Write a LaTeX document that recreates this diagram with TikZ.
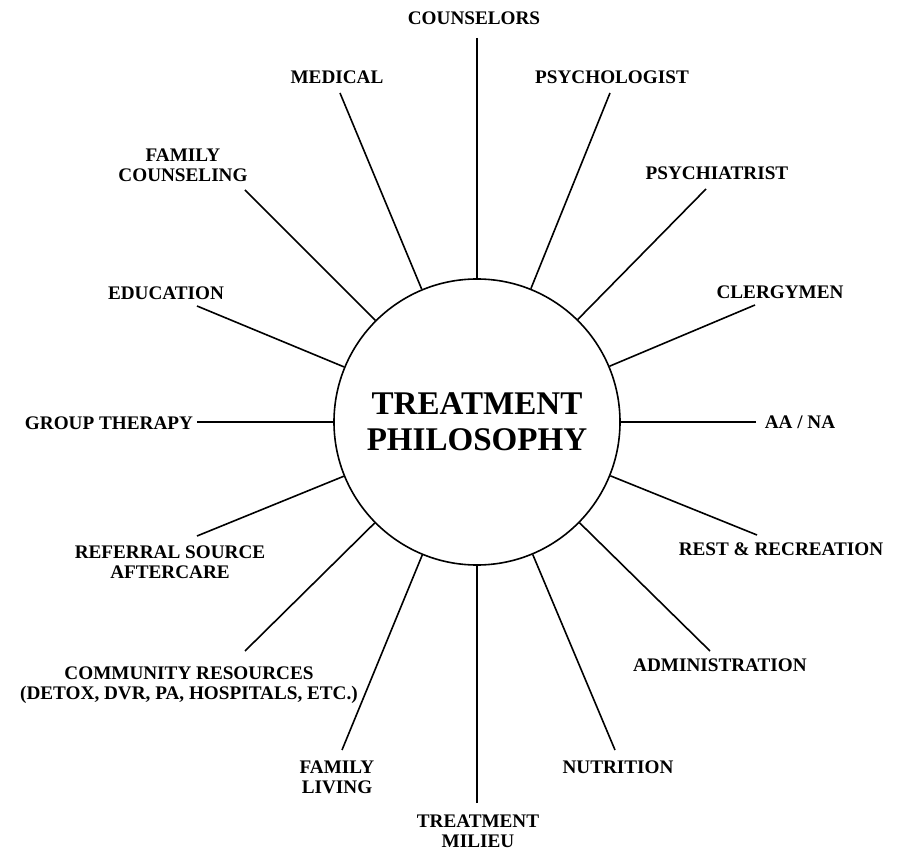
\documentclass[tikz,border=0pt]{standalone}
\usepackage{fontspec}
\setmainfont{Liberation Serif}
\usepackage{tikz}

\begin{document}
\begin{tikzpicture}[x=0.75pt,y=-0.75pt,
    spoke/.style={line width=1.2pt},
    lbl/.style={font=\bfseries\fontsize{14.4}{15}\selectfont,align=center,inner sep=0pt}]
    \useasboundingbox (0,0) rectangle (901,852);
    \node [draw,circle,line width=1.2pt,minimum size=214.5pt,inner sep=0pt,
        font=\bfseries\fontsize{24.8}{27}\selectfont,align=center] (phil) at (477,422) {TREATMENT\\PHILOSOPHY};
    % outer ends of the spokes
    \coordinate (counselorsend) at (477,38);
    \coordinate (psychologistend) at (610,93);
    \coordinate (psychiatristend) at (706,189);
    \coordinate (clergyend) at (755,305);
    \coordinate (aanaend) at (756,422);
    \coordinate (restend) at (757,535);
    \coordinate (adminend) at (710,651);
    \coordinate (nutritionend) at (615,750);
    \coordinate (milieuend) at (477,803);
    \coordinate (livingend) at (342,750);
    \coordinate (communityend) at (245,651);
    \coordinate (referralend) at (197,536);
    \coordinate (groupend) at (197,422);
    \coordinate (educationend) at (197,306);
    \coordinate (famcounselend) at (245,190);
    \coordinate (medicalend) at (340,93);
    \draw [spoke] (counselorsend) -- (phil);
    \draw [spoke] (psychologistend) -- (phil);
    \draw [spoke] (psychiatristend) -- (phil);
    \draw [spoke] (clergyend) -- (phil);
    \draw [spoke] (aanaend) -- (phil);
    \draw [spoke] (restend) -- (phil);
    \draw [spoke] (adminend) -- (phil);
    \draw [spoke] (nutritionend) -- (phil);
    \draw [spoke] (milieuend) -- (phil);
    \draw [spoke] (livingend) -- (phil);
    \draw [spoke] (communityend) -- (phil);
    \draw [spoke] (referralend) -- (phil);
    \draw [spoke] (groupend) -- (phil);
    \draw [spoke] (educationend) -- (phil);
    \draw [spoke] (famcounselend) -- (phil);
    \draw [spoke] (medicalend) -- (phil);
    % labels
    \node [lbl] (counselors) at (474,18) {COUNSELORS};
    \node [lbl] (medical) at (337,77) {MEDICAL};
    \node [lbl] (psychologist) at (612,77) {PSYCHOLOGIST};
    \node [lbl] (psychiatrist) at (717,173) {PSYCHIATRIST};
    \node [lbl] (famcounsel) at (183,165) {FAMILY\\COUNSELING};
    \node [lbl] (clergy) at (780,292) {CLERGYMEN};
    \node [lbl] (education) at (166,293) {EDUCATION};
    \node [lbl] (group) at (109,423) {GROUP THERAPY};
    \node [lbl] (aana) at (800,422) {AA / NA};
    \node [lbl] (referral) at (170,562) {REFERRAL SOURCE\\AFTERCARE};
    \node [lbl] (rest) at (781,549) {REST \& RECREATION};
    \node [lbl] (community) at (189,685) {COMMUNITY RESOURCES\\(DETOX, DVR, PA, HOSPITALS, ETC.)};
    \node [lbl] (admin) at (720,665) {ADMINISTRATION};
    \node [lbl] (living) at (337,777) {FAMILY\\LIVING};
    \node [lbl] (nutrition) at (618,767) {NUTRITION};
    \node [lbl] (milieu) at (478,831) {TREATMENT\\MILIEU};
\end{tikzpicture}
\end{document}
